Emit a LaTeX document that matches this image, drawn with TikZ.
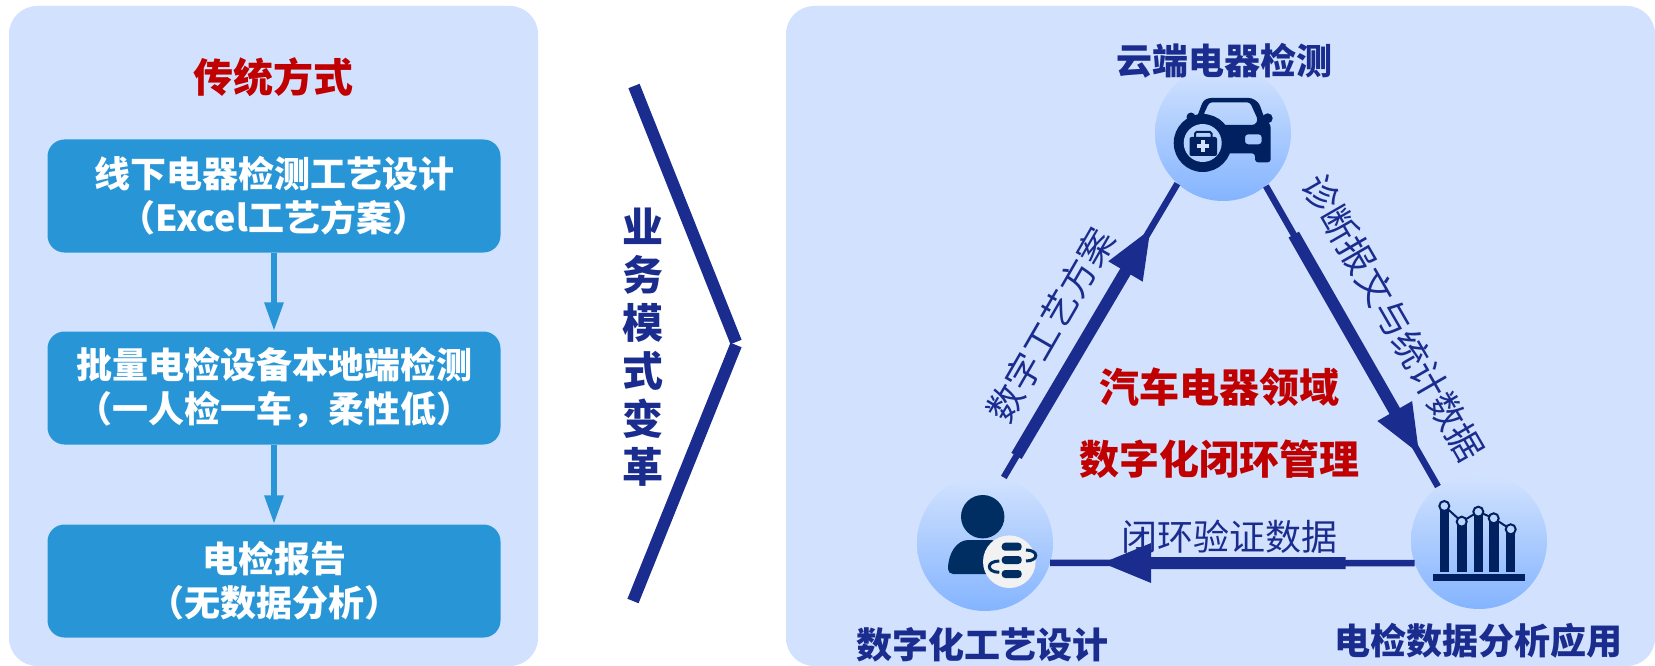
\documentclass[tikz,border=0pt]{standalone}
\usepackage{fontspec}
\setmainfont{Noto Sans CJK SC}
\usetikzlibrary{arrows.meta}
\definecolor{panelblue}{HTML}{D2E2FE}
\definecolor{boxblue}{HTML}{2896D6}
\definecolor{navy}{HTML}{1A2C8E}
\definecolor{darkred}{HTML}{C00000}
\definecolor{icondark}{HTML}{00205F}
\definecolor{persondark}{HTML}{002E63}
\definecolor{circletop}{HTML}{D3E3FE}
\definecolor{circlebottom}{HTML}{84B4FF}
\begin{document}
\begin{tikzpicture}[x=1pt,y=-1pt,inner sep=0pt,
    panel/.style={fill=panelblue,rounded corners=28pt},
    stepbox/.style={fill=boxblue,text=white,rounded corners=17pt,minimum width=453pt,minimum height=113pt,align=center,font=\fontsize{36}{44}\selectfont\bfseries},
    steparrow/.style={boxblue,line width=6pt,-{Triangle[width=18pt,length=29pt]}},
    hub/.style={circle,minimum size=136pt,top color=circletop,bottom color=circlebottom},
    hubtitle/.style={text=navy,font=\fontsize{36}{44}\selectfont\bfseries},
    redtitle/.style={text=darkred,font=\fontsize{40}{48}\selectfont\bfseries},
    flowtext/.style={text=navy,font=\fontsize{36}{42}\selectfont},
    thinline/.style={navy,line width=6.5pt},
    thickline/.style={navy,line width=12pt,-{Triangle[width=36pt,length=51pt]}}]
    \useasboundingbox (0,0) rectangle (1655,666);
    \fill[panel] (9,6) rectangle (538,666);
    \fill[panel] (786,6) rectangle (1655,666);
    \node (title) at (273,77) [redtitle] {传统方式};
    \node (offline) at (274,196) [stepbox] {线下电器检测工艺设计\\（Excel工艺方案）};
    \node (local) at (274,388) [stepbox] {批量电检设备本地端检测\\（一人检一车，柔性低）};
    \node (report) at (274,581) [stepbox] {电检报告\\（无数据分析）};
    \draw[steparrow] (offline) -- (local);
    \draw[steparrow] (local) -- (report);
    \coordinate (chevtop) at (634,86);
    \coordinate (chevmid) at (736,342);
    \coordinate (chevlow) at (736,345);
    \coordinate (chevend) at (633,601);
    \draw[navy,line width=12pt] (chevtop) -- (chevmid);
    \draw[navy,line width=12pt] (chevlow) -- (chevend);
    \node (change) at (643,347) [align=center,text=navy,font=\fontsize{41}{48}\selectfont\bfseries] {业\\务\\模\\式\\变\\革};
    \node (cloud) at (1223,133) [hub] {};
    \node (design) at (985,543) [hub] {};
    \node (analysis) at (1479,541) [hub] {};
    \node (cloudtitle) at (1224,61) [hubtitle] {云端电器检测};
    \node (designtitle) at (982,645) [hubtitle] {数字化工艺设计};
    \node (analysistitle) at (1478,641) [hubtitle] {电检数据分析应用};
    \draw[thinline] (design.74) -- (cloud.228);
    \draw[thinline] (cloud.-51) -- (analysis.127);
    \draw[thinline] (analysis.199) -- (design.-17);
    \draw[thickline,shorten <=25pt,shorten >=51pt] (design.74) -- (cloud.228);
    \draw[thickline,shorten <=56pt,shorten >=36pt] (cloud.-51) -- (analysis.127);
    \draw[thickline,shorten <=69pt,shorten >=50pt] (analysis.199) -- (design.-17);
    \node (planlabel) at (1051,325) [flowtext,rotate=60] {数字工艺方案};
    \node (diaglabel) at (1393,318) [flowtext,rotate=-60] {诊断报文与统计数据};
    \node (looplabel) at (1229,537) [flowtext] {闭环验证数据};
    \node (domain) at (1219,387) [redtitle] {汽车电器领域};
    \node (closedloop) at (1219,459) [redtitle] {数字化闭环管理};
    \begin{scope}[shift={(cloud.center)}]
        \fill[icondark,even odd rule,rounded corners=3pt] (-30,-8) -- (-26,-16) -- (-20,-32) -- (-15,-35) -- (29,-35) -- (36,-30) -- (41,-16) -- (47.7,-8) -- (47.7,29.3) -- (32,29.3) -- (32,20.3) -- (-10,20.3) -- cycle
            (-19.7,-18) -- (-13.7,-30.7) -- (27,-30.7) -- (35,-13) -- (32,-8) -- (-15,-8) -- cycle
            (22,1.3) rectangle (38.7,11.3);
        \fill[icondark] (-32,-16) circle[radius=4.5pt];
        \fill[icondark] (44.7,-14.7) circle[radius=5pt];
        \fill[icondark] (-20.3,10) circle[radius=29pt];
        \fill[circletop!60!circlebottom] (-20.3,10) circle[radius=19pt];
        \fill[icondark,rounded corners=2pt] (-33.5,4) rectangle (-6,23);
        \draw[icondark,line width=2pt,rounded corners=1.5pt] (-28,4) -- (-28,-1) -- (-11.5,-1) -- (-11.5,4);
        \fill[circletop] (-22,7.5) rectangle (-18,19.5);
        \fill[circletop] (-26,11.5) rectangle (-14,15.5);
    \end{scope}
    \begin{scope}[shift={(design.center)}]
        \fill[persondark] (-2.3,-26.3) circle[radius=21.7pt];
        \fill[persondark,rounded corners=5pt] (-37,31) .. controls (-37,10) and (-28,-3) .. (-11.7,-3) -- (11.7,-3) -- (8,31) -- cycle;
        \fill[black!5] (24.3,18.7) circle[radius=26.3pt];
        \fill[persondark,rounded corners=3.5pt] (16.7,-0.3) rectangle (36.7,7.7);
        \fill[persondark,rounded corners=3.5pt] (16.7,13) rectangle (36.7,21);
        \fill[persondark,rounded corners=3.5pt] (16.7,27) rectangle (36.7,35);
        \draw[persondark,line width=3pt] (41,7) .. controls (54,7) and (54,18) .. (41,18);
        \draw[persondark,line width=3pt] (14.3,18) .. controls (1,18) and (1,29.3) .. (14.3,29.3);
    \end{scope}
    \begin{scope}[shift={(analysis.center)}]
        \fill[icondark] (-39,-35) rectangle (-29.7,31);
        \fill[icondark] (-21.7,-19.3) rectangle (-12.3,31);
        \fill[icondark] (-5,-29.3) rectangle (4.3,31);
        \fill[icondark] (10.3,-22.7) rectangle (20,31);
        \fill[icondark] (27,-11.7) rectangle (36.3,31);
        \fill[icondark] (-45.7,33.3) rectangle (46.3,39.7);
        \draw[icondark,line width=2pt] (-34.7,-35) -- (-17.3,-19.3) -- (-0.7,-29.3) -- (14.7,-22.7) -- (31.7,-11.7);
        \draw[icondark,fill=circletop!70!circlebottom,line width=2pt] (-34.7,-35) circle[radius=5pt];
        \draw[icondark,fill=circletop!70!circlebottom,line width=2pt] (-17.3,-19.3) circle[radius=5pt];
        \draw[icondark,fill=circletop!70!circlebottom,line width=2pt] (-0.7,-29.3) circle[radius=5pt];
        \draw[icondark,fill=circletop!70!circlebottom,line width=2pt] (14.7,-22.7) circle[radius=5pt];
        \draw[icondark,fill=circletop!70!circlebottom,line width=2pt] (31.7,-11.7) circle[radius=5pt];
    \end{scope}
\end{tikzpicture}
\end{document}
